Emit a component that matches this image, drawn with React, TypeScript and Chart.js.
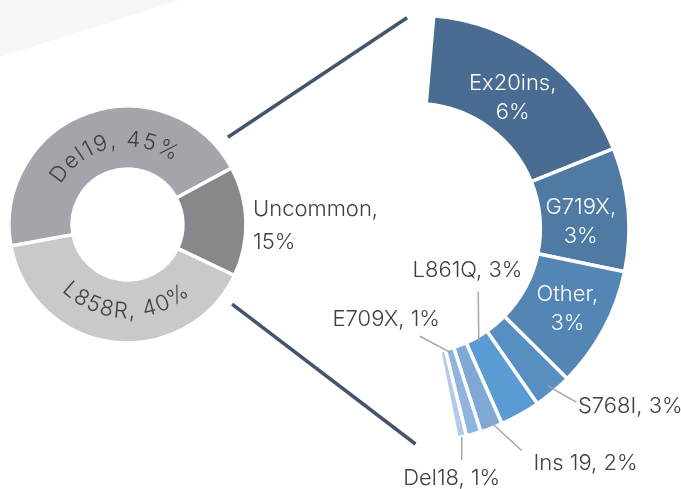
import React, { useEffect, useRef } from "react";
import { Chart, registerables } from "chart.js";

Chart.register(...registerables);

// ---------------- data ----------------
const mainCategories = ["Del19", "Uncommon", "L858R"];
const mainPercents = [45, 15, 40];

const subCategories = ["Ex20ins", "G719X", "Other", "S768I", "L861Q", "Ins 19", "E709X", "Del18"];
const subPercents = [6, 3, 3, 3, 3, 2, 1, 1];
// size of each slice as drawn in the right-hand ring (degrees of arc)
const subArcSizes = [63.1, 33.7, 33.0, 10.5, 10.9, 6.1, 4.0, 2.6];

// ---------------- styles / layout ----------------
const W = 681;
const H = 489;
const MAIN_COLORS = ["#a6a4aa", "#88878c", "#c9c8cc"];
const SUB_COLORS = ["#4a6c92", "#4e7aa4", "#5385b5", "#588fc2", "#5b9bd3", "#7fa8d6", "#8fb4de", "#b4cbe8"];
const FONT_FAMILY = 'Inter, "Open Sans", Lato, sans-serif';
const FONT = `300 22px ${FONT_FAMILY}`;
const TEXT_DARK = "#404040";
const LEADER_COLOR = "#a6a6a6";
const CONNECTOR_COLOR = "#44546a";
const BORDER_W = 3.5;
const ARC_LETTER_SPACING = 1.6;

const LEFT = { cx: 127.5, cy: 224.5, r: 118.5, cutout: "46.8%", rotation: -100.5 };
const RIGHT = { cx: 415.5, cy: 228.5, r: 213.5, cutout: "58.5%", rotation: 4.9 };

// arc text for the main ring: [category index, baseline radius, centre angle (deg from top), bottom?]
const MAIN_ARC_TEXT = [
  { i: 0, r: 78, deg: -11.5, bottom: false },
  { i: 2, r: 93.5, deg: 181.5, bottom: true },
];

// connector lines: polar from left centre -> polar from right centre
const CONNECTORS = [
  { from: { r: 133, deg: 49 }, to: { r: 211, deg: -2.3 } },
  { from: { r: 131.5, deg: 127.3 }, to: { r: 215.5, deg: 180 } },
];

type SubLayout =
  | { inside: true; r: number; nx: number; ny: number }
  | { inside: false; r: number; dx: number; dy: number; tx: number; ty: number; align: CanvasTextAlign };

const SUB_LABEL_LAYOUT: SubLayout[] = [
  { inside: true, r: 0.463, nx: -1.4, ny: 2 },
  { inside: true, r: 0.463, nx: 0, ny: 7 },
  { inside: true, r: 0.463, nx: 5.7, ny: 0.6 },
  { inside: false, r: 0.915, dx: 28.4, dy: 16.0, tx: 1.5, ty: 10.5, align: "left" },
  { inside: false, r: 0.047, dx: -0.5, dy: -49.4, tx: -10.8, ty: -15, align: "center" },
  { inside: false, r: 0.904, dx: 33.4, dy: 30.7, tx: 11.6, ty: 19.3, align: "left" },
  { inside: false, r: 0.047, dx: -30.7, dy: -16.4, tx: 20, ty: -10, align: "right" },
  { inside: false, r: 1.0, dx: 0, dy: 23, tx: -10, ty: 25, align: "center" },
];

// ---------------- helpers ----------------
function padFor(cx: number, cy: number) {
  return {
    left: Math.max(0, 2 * cx - W),
    right: Math.max(0, W - 2 * cx),
    top: Math.max(0, 2 * cy - H),
    bottom: Math.max(0, H - 2 * cy),
  };
}

function polar(cx: number, cy: number, r: number, deg: number) {
  const a = (deg * Math.PI) / 180;
  return { x: cx + r * Math.sin(a), y: cy - r * Math.cos(a) };
}

function drawArcText(
  ctx: CanvasRenderingContext2D,
  text: string,
  cx: number,
  cy: number,
  r: number,
  centerDeg: number,
  bottom: boolean
) {
  const chars = Array.from(text);
  const widths = chars.map((c) => ctx.measureText(c).width + ARC_LETTER_SPACING);
  const total = widths.reduce((a, b) => a + b, 0);
  const span = total / r;
  const c0 = (centerDeg * Math.PI) / 180;
  let acc = 0;
  ctx.textAlign = "center";
  ctx.textBaseline = "alphabetic";
  chars.forEach((ch, i) => {
    const off = (acc + widths[i] / 2) / r - span / 2;
    const a = bottom ? c0 - off : c0 + off;
    ctx.save();
    ctx.translate(cx + r * Math.sin(a), cy - r * Math.cos(a));
    ctx.rotate(bottom ? a - Math.PI : a);
    ctx.fillText(ch, 0, 0);
    ctx.restore();
    acc += widths[i];
  });
}

const leftLabelsPlugin = {
  id: "leftLabels",
  afterDatasetsDraw(chart: any) {
    const ctx: CanvasRenderingContext2D = chart.ctx;
    const el = chart.getDatasetMeta(0).data[0];
    const { x, y, outerRadius } = el.getProps(["x", "y", "outerRadius"], true);
    ctx.save();
    ctx.font = FONT;
    ctx.fillStyle = TEXT_DARK;
    MAIN_ARC_TEXT.forEach((t) => {
      drawArcText(ctx, `${mainCategories[t.i]}, ${mainPercents[t.i]}%`, x, y, t.r, t.deg, t.bottom);
    });
    ctx.textAlign = "left";
    ctx.textBaseline = "alphabetic";
    ctx.fillText(`${mainCategories[1]},`, x + outerRadius + 7, y - 8.5);
    ctx.fillText(`${mainPercents[1]}%`, x + outerRadius + 7, y + 24.5);

    // connectors towards the breakdown ring
    ctx.strokeStyle = CONNECTOR_COLOR;
    ctx.lineWidth = 3.5;
    ctx.lineCap = "butt";
    CONNECTORS.forEach((c) => {
      const a = polar(x, y, c.from.r, c.from.deg);
      const b = polar(RIGHT.cx, RIGHT.cy, c.to.r, c.to.deg);
      ctx.beginPath();
      ctx.moveTo(a.x, a.y);
      ctx.lineTo(b.x, b.y);
      ctx.stroke();
    });
    ctx.restore();
  },
};

const rightLabelsPlugin = {
  id: "rightLabels",
  afterDatasetsDraw(chart: any) {
    const ctx: CanvasRenderingContext2D = chart.ctx;
    const meta = chart.getDatasetMeta(0);
    ctx.save();
    ctx.font = FONT;
    meta.data.forEach((el: any, i: number) => {
      const p = el.getProps(["x", "y", "startAngle", "endAngle", "innerRadius", "outerRadius"], true);
      const mid = (p.startAngle + p.endAngle) / 2;
      const L = SUB_LABEL_LAYOUT[i];
      const rr = p.innerRadius + (p.outerRadius - p.innerRadius) * L.r;
      const sx = p.x + rr * Math.cos(mid);
      const sy = p.y + rr * Math.sin(mid);
      if (L.inside) {
        const px = sx + L.nx;
        const py = sy + L.ny;
        ctx.fillStyle = "#ffffff";
        ctx.textAlign = "center";
        ctx.textBaseline = "alphabetic";
        ctx.fillText(`${subCategories[i]},`, px, py - 7);
        ctx.fillText(`${subPercents[i]}%`, px, py + 22);
      } else {
        const ex = sx + L.dx;
        const ey = sy + L.dy;
        ctx.strokeStyle = LEADER_COLOR;
        ctx.lineWidth = 1.5;
        ctx.beginPath();
        ctx.moveTo(sx, sy);
        ctx.lineTo(ex, ey);
        ctx.stroke();
        ctx.fillStyle = TEXT_DARK;
        ctx.textAlign = L.align;
        ctx.textBaseline = "alphabetic";
        ctx.fillText(`${subCategories[i]}, ${subPercents[i]}%`, ex + L.tx, ey + L.ty);
      }
    });
    ctx.restore();
  },
};

export default function App() {
  const leftRef = useRef<HTMLCanvasElement | null>(null);
  const rightRef = useRef<HTMLCanvasElement | null>(null);

  useEffect(() => {
    if (!leftRef.current || !rightRef.current) return;

    const left = new Chart(leftRef.current, {
      type: "doughnut",
      data: {
        labels: mainCategories,
        datasets: [
          {
            data: mainPercents,
            backgroundColor: MAIN_COLORS,
            borderColor: "#ffffff",
            borderWidth: BORDER_W,
            hoverOffset: 0,
          },
        ],
      },
      options: {
        animation: false,
        responsive: false,
        devicePixelRatio: 1,
        events: [],
        rotation: LEFT.rotation,
        circumference: 360,
        radius: LEFT.r,
        cutout: LEFT.cutout,
        layout: { padding: padFor(LEFT.cx, LEFT.cy) },
        plugins: { legend: { display: false }, tooltip: { enabled: false } },
      } as any,
      plugins: [leftLabelsPlugin],
    });

    const arcTotal = subArcSizes.reduce((a, b) => a + b, 0);
    const right = new Chart(rightRef.current, {
      type: "doughnut",
      data: {
        labels: subCategories,
        datasets: [
          {
            data: subArcSizes,
            backgroundColor: SUB_COLORS,
            borderColor: "#ffffff",
            borderWidth: BORDER_W,
            hoverOffset: 0,
          },
        ],
      },
      options: {
        animation: false,
        responsive: false,
        devicePixelRatio: 1,
        events: [],
        rotation: RIGHT.rotation,
        circumference: arcTotal,
        radius: RIGHT.r,
        cutout: RIGHT.cutout,
        layout: { padding: padFor(RIGHT.cx, RIGHT.cy) },
        plugins: { legend: { display: false }, tooltip: { enabled: false } },
      } as any,
      plugins: [rightLabelsPlugin],
    });

    // a partial ring is re-centred by Chart.js; shift the chart area so the ring centre lands where wanted
    const el: any = right.getDatasetMeta(0).data[0];
    if (el) {
      const ax = el.x;
      const ay = el.y;
      (right.options as any).layout.padding = padFor(2 * RIGHT.cx - ax, 2 * RIGHT.cy - ay);
      right.update();
    }

    return () => {
      left.destroy();
      right.destroy();
    };
  }, []);

  return (
    <div style={{ position: "absolute", left: 0, top: 0, width: W, height: H, background: "#ffffff", overflow: "hidden" }}>
      <div
        style={{
          position: "absolute",
          left: 0,
          top: 0,
          width: 200,
          height: 60,
          background: "#f7f7f7",
          clipPath: "polygon(0 0, 180px 0, 0 57px)",
        }}
      />
      <canvas ref={leftRef} width={W} height={H} style={{ position: "absolute", left: 0, top: 0 }} />
      <canvas ref={rightRef} width={W} height={H} style={{ position: "absolute", left: 0, top: 0 }} />
    </div>
  );
}
